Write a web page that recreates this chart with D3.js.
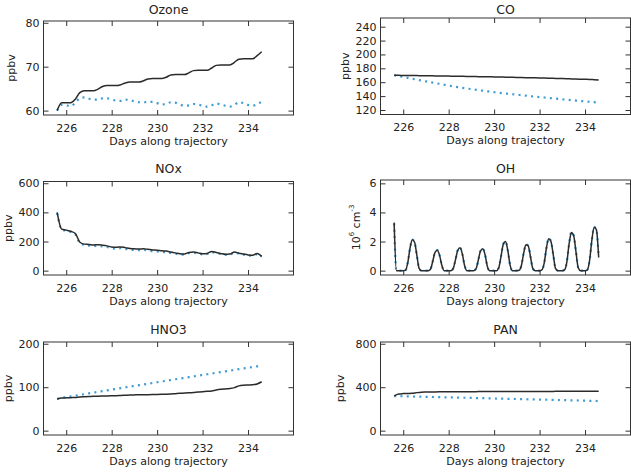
<!DOCTYPE html>
<html lang="en">
<head>
<meta charset="UTF-8">
<title>Trajectory chemistry</title>
<script src="https://cdn.jsdelivr.net/npm/d3@7"></script>
<style>
  html,body{margin:0;padding:0;background:#fff;}
  svg{display:block;font-family:"DejaVu Sans",sans-serif;}
</style>
</head>
<body>
<svg id="chart" width="631" height="472"></svg>
<script>
// time axis (days along trajectory)
const days = [225.6, 225.8, 226.0, 226.2, 226.4, 226.6, 226.8, 227.0, 227.2, 227.4,
  227.6, 227.8, 228.0, 228.2, 228.4, 228.6, 228.8, 229.0, 229.2, 229.4,
  229.6, 229.8, 230.0, 230.2, 230.4, 230.6, 230.8, 231.0, 231.2, 231.4,
  231.6, 231.8, 232.0, 232.2, 232.4, 232.6, 232.8, 233.0, 233.2, 233.4,
  233.6, 233.8, 234.0, 234.2, 234.4, 234.6];
const ohDays = [225.6, 225.7, 225.8, 225.9,
  226.0, 226.1, 226.2, 226.3, 226.4, 226.5, 226.6, 226.7, 226.8, 226.9,
  227.0, 227.1, 227.2, 227.3, 227.4, 227.5, 227.6, 227.7, 227.8, 227.9,
  228.0, 228.1, 228.2, 228.3, 228.4, 228.5, 228.6, 228.7, 228.8, 228.9,
  229.0, 229.1, 229.2, 229.3, 229.4, 229.5, 229.6, 229.7, 229.8, 229.9,
  230.0, 230.1, 230.2, 230.3, 230.4, 230.5, 230.6, 230.7, 230.8, 230.9,
  231.0, 231.1, 231.2, 231.3, 231.4, 231.5, 231.6, 231.7, 231.8, 231.9,
  232.0, 232.1, 232.2, 232.3, 232.4, 232.5, 232.6, 232.7, 232.8, 232.9,
  233.0, 233.1, 233.2, 233.3, 233.4, 233.5, 233.6, 233.7, 233.8, 233.9,
  234.0, 234.1, 234.2, 234.3, 234.4, 234.5, 234.6];

// solid = black run, dotted = blue run
const ozoneSolid = [60.0, 61.8,
  61.8, 61.8, 62.6, 64.1, 64.5,
  64.5, 64.5, 64.9, 65.5, 65.7,
  65.7, 65.7, 65.9, 66.3, 66.5,
  66.5, 66.5, 66.8, 67.2, 67.3,
  67.3, 67.3, 67.6, 68.1, 68.2,
  68.2, 68.2, 68.6, 69.1, 69.2,
  69.2, 69.2, 69.7, 70.3, 70.4,
  70.4, 70.4, 71.0, 71.7, 71.8,
  71.8, 71.8, 72.5, 73.4];
const ozoneDotted = [60.0, 61.3,
  61.2, 61.0, 61.8, 62.8, 63.0,
  62.7, 62.5, 62.5, 62.8, 62.8,
  62.5, 62.3, 62.2, 62.5, 62.4,
  62.1, 61.9, 61.9, 62.0, 62.0,
  61.7, 61.4, 61.5, 61.9, 61.8,
  61.4, 61.1, 61.2, 61.5, 61.4,
  61.1, 60.9, 61.2, 61.6, 61.4,
  61.1, 60.9, 61.3, 61.9, 61.7,
  61.3, 61.1, 61.5, 62.0];

const coSolid = [170.0, 169.9, 169.8, 169.7, 169.6, 169.5, 169.4, 169.3, 169.2, 169.1,
  169.0, 168.9, 168.8, 168.7, 168.6, 168.5, 168.4, 168.2, 168.1, 168.0,
  167.9, 167.8, 167.6, 167.5, 167.4, 167.2, 167.1, 166.9, 166.8, 166.6,
  166.5, 166.3, 166.1, 166.0, 165.8, 165.6, 165.4, 165.2, 165.0, 164.8,
  164.6, 164.4, 164.2, 164.0, 163.6, 163.2];
const coDotted = [170.0, 168.8, 167.6, 166.3, 165.0, 163.7, 162.4, 161.2, 160.0, 158.8,
  157.6, 156.4, 155.2, 154.1, 153.0, 152.0, 151.0, 150.0, 149.1, 148.2,
  147.3, 146.5, 145.7, 144.9, 144.1, 143.4, 142.7, 142.0, 141.3, 140.6,
  139.9, 139.3, 138.6, 138.0, 137.3, 136.7, 136.1, 135.4, 134.8, 134.2,
  133.6, 133.0, 132.4, 131.8, 131.2, 130.6];

const noxSolid = [400, 285, 278, 270, 255, 195, 182, 180, 176, 178,
  175, 170, 162, 160, 163, 158, 152, 150, 148, 150,
  146, 142, 140, 136, 134, 128, 122, 116, 114, 125,
  128, 122, 116, 118, 132, 124, 118, 112, 114, 128,
  120, 114, 108, 106, 118, 98];
const noxDotted = [395, 282, 274, 266, 250, 188, 176, 172, 168, 170,
  166, 162, 154, 150, 154, 150, 144, 142, 140, 142,
  138, 134, 132, 128, 127, 121, 116, 111, 110, 120,
  123, 117, 112, 114, 127, 120, 114, 108, 110, 124,
  116, 110, 104, 102, 114, 95];

const ohSolid = [3.30, 0.00, 0.00, 0.00,
  0.00, 0.02, 0.55, 1.55, 2.12, 1.95, 1.05, 0.15, 0.00, 0.00,
  0.00, 0.00, 0.10, 0.65, 1.25, 1.40, 1.05, 0.35, 0.00, 0.00,
  0.00, 0.00, 0.15, 0.75, 1.40, 1.58, 1.15, 0.35, 0.00, 0.00,
  0.00, 0.00, 0.12, 0.70, 1.35, 1.50, 1.10, 0.30, 0.00, 0.00,
  0.00, 0.00, 0.18, 0.95, 1.80, 2.00, 1.40, 0.40, 0.00, 0.00,
  0.00, 0.02, 0.35, 1.20, 1.78, 1.70, 0.95, 0.15, 0.00, 0.00,
  0.00, 0.05, 0.50, 1.55, 2.20, 2.00, 1.10, 0.15, 0.00, 0.00,
  0.00, 0.05, 0.60, 1.85, 2.62, 2.40, 1.30, 0.20, 0.00, 0.00,
  0.00, 0.05, 0.70, 2.10, 2.98, 2.80, 0.90];
const ohDotted = [3.25, 0.00, 0.00, 0.00,
  0.00, 0.02, 0.56, 1.57, 2.14, 1.96, 1.04, 0.15, 0.00, 0.00,
  0.00, 0.00, 0.10, 0.66, 1.27, 1.42, 1.06, 0.35, 0.00, 0.00,
  0.00, 0.00, 0.15, 0.76, 1.42, 1.60, 1.16, 0.35, 0.00, 0.00,
  0.00, 0.00, 0.12, 0.71, 1.37, 1.52, 1.11, 0.30, 0.00, 0.00,
  0.00, 0.00, 0.18, 0.96, 1.82, 2.02, 1.41, 0.40, 0.00, 0.00,
  0.00, 0.02, 0.35, 1.21, 1.80, 1.72, 0.96, 0.15, 0.00, 0.00,
  0.00, 0.05, 0.50, 1.57, 2.22, 2.02, 1.11, 0.15, 0.00, 0.00,
  0.00, 0.05, 0.61, 1.87, 2.65, 2.42, 1.31, 0.20, 0.00, 0.00,
  0.00, 0.05, 0.71, 2.12, 3.01, 2.82, 0.92];

const hno3Solid = [73, 75, 75.5, 76, 76.5, 77.5, 78, 78.5, 79, 79.3,
  79.6, 80, 80.3, 80.6, 81, 81.5, 82, 82.3, 82.5, 82.7,
  82.8, 83, 83.2, 83.5, 84, 84.5, 85.2, 85.8, 86.5, 87.2,
  88, 89, 89.8, 90.5, 91.5, 93.5, 95, 96, 97, 99,
  103, 104.5, 105, 105.5, 107.5, 112.5];
const hno3Dotted = [73, 75.2, 77.0, 78.8, 80.5, 82.3, 84.0, 85.8, 87.5, 89.2,
  91.0, 92.7, 94.4, 96.1, 97.8, 99.6, 101.3, 103.0, 104.7, 106.3,
  108.0, 109.7, 111.4, 113.1, 114.8, 116.5, 118.2, 119.8, 121.5, 123.2,
  124.8, 126.5, 128.2, 129.8, 131.5, 133.2, 134.8, 136.5, 138.1, 139.8,
  141.4, 143.1, 144.7, 146.4, 148.0, 149.7];

const panSolid = [320, 338, 341, 342, 344, 350, 354, 355, 356, 356.5,
  357, 357.5, 358, 358, 358.5, 358.5, 359, 359, 359, 359.5,
  359.5, 360, 360, 360, 360, 360.5, 360.5, 360.5, 361, 361,
  361, 361, 361.5, 361.5, 361.5, 361.5, 362, 362, 362, 362,
  362, 362.5, 362.5, 362.5, 362.5, 362];
const panDotted = [318, 317.5, 316, 315, 314.5, 313, 312, 311, 310.5, 309,
  308, 307, 306.5, 305, 304, 303, 302.5, 301, 300, 299,
  298.5, 297, 296, 295, 294.5, 293, 292, 291, 290.5, 289,
  288, 287, 286.5, 285, 284, 283, 282, 281, 280, 279,
  278, 277, 276, 275, 274, 272];

// tick labels
const xTicks = [226, 228, 230, 232, 234];
const ozoneTicks = [60, 70, 80];
const coTicks = [120, 140, 160, 180, 200, 220, 240];
const noxTicks = [0, 200, 400, 600];
const ohTicks = [0, 2, 4, 6];
const hno3Ticks = [0, 100, 200];
const panTicks = [0, 400, 800];

const panels = [
  {title: "Ozone", left: 43.5, top: 21, bottom: 115, ty: 13.5, dom: [59, 80.4], ticks: ozoneTicks, t: days, solid: ozoneSolid, dotted: ozoneDotted, lx: 11},
  {title: "CO", left: 380.5, top: 18, bottom: 114.5, ty: 13.5, dom: [113.5, 252.5], ticks: coTicks, t: days, solid: coSolid, dotted: coDotted, lx: 345},
  {title: "NOx", left: 43.5, top: 181.5, bottom: 275, ty: 173, dom: [-30, 612], ticks: noxTicks, t: days, solid: noxSolid, dotted: noxDotted, lx: 8.5},
  {title: "OH", left: 380.5, top: 180, bottom: 275, ty: 173, dom: [-0.3, 6.23], ticks: ohTicks, t: ohDays, solid: ohSolid, dotted: ohDotted, lx: 356, oh: true},
  {title: "HNO3", left: 43.5, top: 342, bottom: 435, ty: 333.5, dom: [-10, 204], ticks: hno3Ticks, t: days, solid: hno3Solid, dotted: hno3Dotted, lx: 8.5},
  {title: "PAN", left: 380.5, top: 342, bottom: 435, ty: 333.5, dom: [-40, 816], ticks: panTicks, t: days, solid: panSolid, dotted: panDotted, lx: 340}
];

const W = 250;
const svg = d3.select("#chart");
const ink = "#333";

panels.forEach(p => {
  const x = d3.scaleLinear().domain([225, 236]).range([p.left, p.left + W]);
  const y = d3.scaleLinear().domain(p.dom).range([p.bottom, p.top]);
  const g = svg.append("g");

  const line = vals => d3.line()
    .x((d, i) => x(p.t[i]))
    .y(d => y(d))
    .curve(d3.curveMonotoneX)(vals);

  g.append("path").attr("d", line(p.dotted))
    .attr("fill", "none").attr("stroke", "#3a9bd5")
    .attr("stroke-width", 2.2).attr("stroke-dasharray", "2,4.3");
  g.append("path").attr("d", line(p.solid))
    .attr("fill", "none").attr("stroke", "#2b2b2b")
    .attr("stroke-width", 1.5);

  // axes with inward ticks
  g.append("g").attr("transform", `translate(0,${p.bottom})`)
    .call(d3.axisBottom(x).tickValues(xTicks).tickSize(-5).tickPadding(9).tickFormat(d3.format("d")));
  g.append("g").attr("transform", `translate(0,${p.top})`)
    .call(d3.axisTop(x).tickValues(xTicks).tickSize(-5).tickFormat(""));
  g.append("g").attr("transform", `translate(${p.left},0)`)
    .call(d3.axisLeft(y).tickValues(p.ticks).tickSize(-5).tickPadding(4).tickFormat(d3.format("d")));
  g.append("g").attr("transform", `translate(${p.left + W},0)`)
    .call(d3.axisRight(y).tickValues(p.ticks).tickSize(-5).tickFormat(""));

  g.selectAll(".domain").remove();
  g.selectAll(".tick line").attr("stroke", ink);
  g.selectAll(".tick text").attr("fill", "#222").attr("font-size", 11)
    .attr("font-family", "DejaVu Sans, sans-serif");

  g.append("rect")
    .attr("x", p.left).attr("y", p.top)
    .attr("width", W).attr("height", p.bottom - p.top)
    .attr("fill", "none").attr("stroke", ink).attr("stroke-width", 1);

  g.append("text")
    .attr("x", p.left + W / 2).attr("y", p.ty)
    .attr("text-anchor", "middle").attr("font-size", 12.5).attr("fill", "#222")
    .text(p.title);

  g.append("text")
    .attr("x", p.left + W / 2).attr("y", p.bottom + 29.5)
    .attr("text-anchor", "middle").attr("font-size", 11).attr("fill", "#222")
    .text("Days along trajectory");

  const yl = g.append("text")
    .attr("transform", `translate(${p.lx},${(p.top + p.bottom) / 2}) rotate(-90)`)
    .attr("text-anchor", "middle").attr("dominant-baseline", "central")
    .attr("font-size", 11).attr("fill", "#222");
  if (p.oh) {
    yl.append("tspan").text("10");
    yl.append("tspan").attr("font-size", 7).attr("dy", -4).text("6");
    yl.append("tspan").attr("dy", 4).text(" cm");
    yl.append("tspan").attr("font-size", 7).attr("dy", -4).text("-3");
  } else {
    yl.text("ppbv");
  }
});
</script>
</body>
</html>
